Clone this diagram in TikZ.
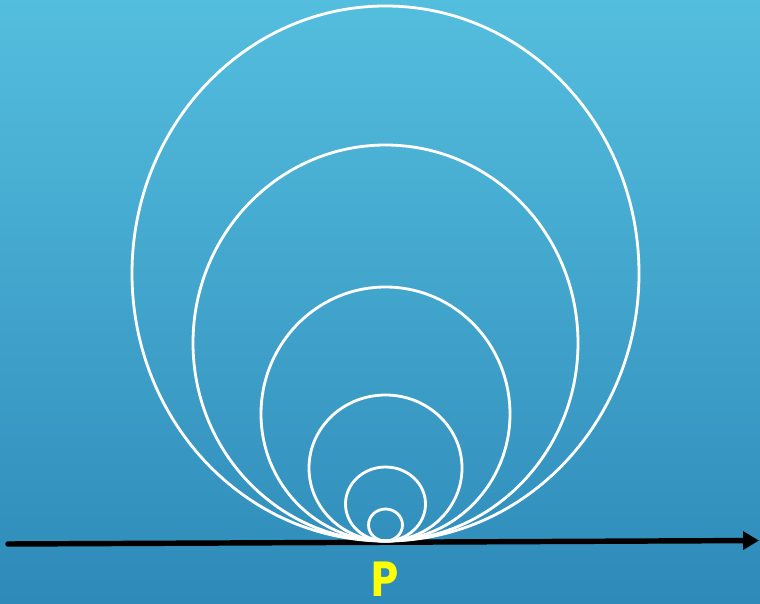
\documentclass[tikz,border=0pt]{standalone}
\usepackage{fontspec}
\newfontfamily\labelfont{Poppins}
\usetikzlibrary{arrows.meta}
\definecolor{skytop}{RGB}{84,190,222}
\definecolor{skybottom}{RGB}{46,138,185}
\definecolor{plabel}{RGB}{255,255,0}
\begin{document}
\begin{tikzpicture}[
  x=0.02cm, y=0.02cm,
  ring/.style={draw=white, line width=1.6pt},
  axis/.style={draw=black, line width=3.1pt, line cap=round, -{Triangle[length=9pt, width=10pt]}},
  plab/.style={text=plabel, font=\labelfont\bfseries\fontsize{28}{30}\selectfont, inner sep=0pt, xscale=0.88}
]
  \shade[top color=skytop, bottom color=skybottom] (0,0) rectangle (760,603);
  \useasboundingbox (0,0) rectangle (760,603);

  \coordinate (start) at (8, 59);
  \coordinate (end) at (759, 62.5);
  \coordinate (P) at (385.5, 62);

  \draw[axis] (start) -- (end);

  \foreach \rx/\ry in {253.5/267.5, 192.5/198, 124.5/127, 76.5/73, 40/37, 17/16}
    \draw[ring] ([yshift=\ry*0.02cm]P) ellipse [x radius=\rx*0.02cm, y radius=\ry*0.02cm];

  \node[plab] (plabel) at (385, 24) {P};
\end{tikzpicture}
\end{document}
